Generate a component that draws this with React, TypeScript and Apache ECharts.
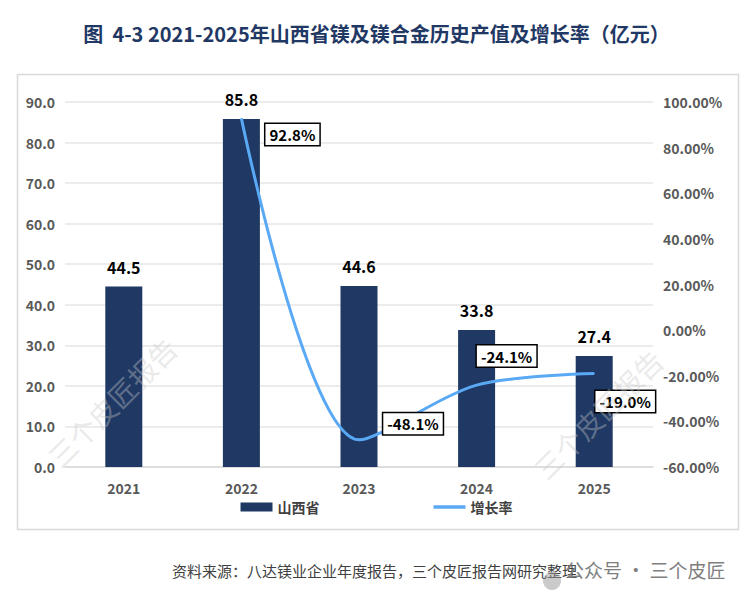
import { useEffect, useRef } from 'react';
import * as echarts from 'echarts';

const years = ['2021', '2022', '2023', '2024', '2025'];
const output = [44.5, 85.8, 44.6, 33.8, 27.4];
const growth = [null, 92.8, -48.1, -24.1, -19.0];
const growthLabelOffsets = [
  [0, 0],
  [51, 16],
  [54, -16],
  [30, -29],
  [31, 28]
];

const FONT = '"Noto Sans CJK SC", "Noto Sans", sans-serif';

const App = () => {
  const chartRef = useRef<HTMLDivElement>(null);

  useEffect(() => {
    if (!chartRef.current) return;
    const chart = echarts.init(chartRef.current, null, { renderer: 'svg' });

    const watermark = (x: number, y: number) => ({
      type: 'text',
      x,
      y,
      rotation: Math.PI / 4,
      style: {
        text: '三个皮匠报告',
        fill: 'rgba(200,200,200,0.4)',
        font: `28px ${FONT}`,
        align: 'center',
        verticalAlign: 'middle'
      },
      z: 100
    });

    const option = {
      animation: false,
      textStyle: { fontFamily: FONT },
      title: {
        text: '图  4-3 2021-2025年山西省镁及镁合金历史产值及增长率（亿元）',
        left: 'center',
        top: 18,
        textStyle: { color: '#1f3864', fontSize: 20, fontWeight: 'bold', fontFamily: FONT }
      },
      grid: { left: 65, right: 100, top: 102, bottom: 136 },
      legend: {
        bottom: 84,
        left: 'center',
        itemGap: 114,
        itemWidth: 32,
        itemHeight: 9,
        textStyle: { color: '#404040', fontSize: 14, fontWeight: 'bold', fontFamily: FONT },
        data: [
          { name: '山西省', icon: 'rect' },
          { name: '增长率', icon: 'path://M0,0 L32,0 L32,3.5 L0,3.5 Z' }
        ]
      },
      xAxis: {
        type: 'category',
        data: years,
        axisTick: { show: false },
        axisLine: { lineStyle: { color: '#d9d9d9', width: 1.5 } },
        axisLabel: { color: '#595959', fontSize: 14, fontWeight: 'bold', margin: 14 }
      },
      yAxis: [
        {
          type: 'value',
          min: 0,
          max: 90,
          interval: 10,
          axisLine: { show: false },
          axisTick: { show: false },
          splitLine: { lineStyle: { color: '#e6e6e6', width: 1.5 } },
          axisLabel: {
            color: '#595959',
            fontSize: 14,
            fontWeight: 'bold',
            margin: 10,
            formatter: (v: number) => v.toFixed(1)
          }
        },
        {
          type: 'value',
          min: -60,
          max: 100,
          interval: 20,
          axisLine: { show: false },
          axisTick: { show: false },
          splitLine: { show: false },
          axisLabel: {
            color: '#595959',
            fontSize: 14,
            fontWeight: 'bold',
            margin: 10,
            formatter: (v: number) => v.toFixed(2) + '%'
          }
        }
      ],
      series: [
        {
          name: '山西省',
          type: 'bar',
          barWidth: 37,
          data: output,
          itemStyle: { color: '#1f3864' },
          label: {
            show: true,
            position: 'top',
            distance: 12,
            color: '#000',
            fontSize: 16,
            fontWeight: 'bold',
            formatter: (p: any) => p.value.toFixed(1)
          }
        },
        {
          name: '增长率',
          type: 'line',
          yAxisIndex: 1,
          smooth: 0.3,
          symbol: 'circle',
          symbolSize: 1,
          lineStyle: { color: '#5aa9f5', width: 3 },
          itemStyle: { color: '#5aa9f5' },
          data: growth.map((v, i) => ({
            value: v,
            label: {
              show: v !== null,
              position: 'inside',
              offset: growthLabelOffsets[i],
              formatter: (p: any) => p.value.toFixed(1) + '%',
              color: '#000',
              fontSize: 15,
              fontWeight: 'bold',
              backgroundColor: '#fff',
              borderColor: '#000',
              borderWidth: 1.5,
              padding: [4, 4, 2, 4]
            }
          }))
        }
      ],
      graphic: [
        {
          type: 'rect',
          left: 15,
          top: 72,
          shape: { width: 721, height: 455 },
          style: { fill: 'none', stroke: '#d9d9d9', lineWidth: 1.5 },
          z: -10
        },
        watermark(112, 402),
        watermark(598, 414),
        {
          type: 'text',
          left: 172,
          top: 563,
          style: {
            text: '资料来源：八达镁业企业年度报告，三个皮匠报告网研究整理',
            fill: '#404040',
            font: `15px ${FONT}`
          }
        },
        {
          type: 'circle',
          shape: { cx: 552, cy: 581, r: 9 },
          style: { fill: 'rgba(150,150,150,0.5)' },
          z: 100
        },
        {
          type: 'text',
          left: 565,
          top: 560,
          style: {
            text: '公众号 · 三个皮匠',
            fill: '#7f7f7f',
            font: `19px ${FONT}`
          },
          z: 100
        }
      ]
    };

    chart.setOption(option);
    return () => chart.dispose();
  }, []);

  return (
    <div style={{ position: 'fixed', left: 0, top: 0, width: 753, height: 603, background: '#fff' }}>
      <div ref={chartRef} style={{ width: 753, height: 603 }} />
    </div>
  );
};

export default App;
